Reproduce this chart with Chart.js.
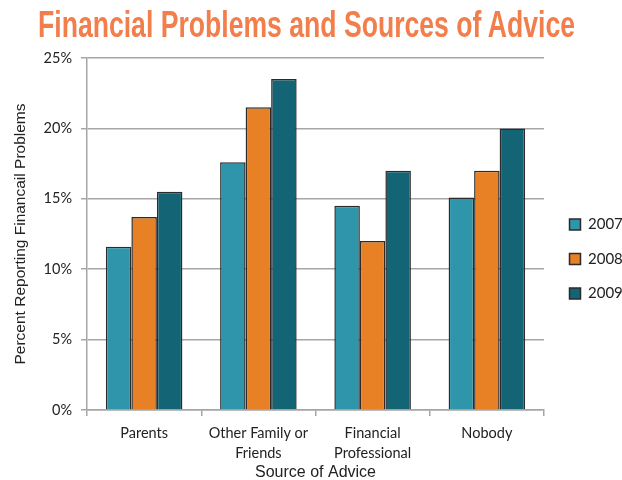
<!DOCTYPE html>
<html>
<head>
<meta charset="utf-8">
<script src="https://cdn.jsdelivr.net/npm/chart.js@4"></script>
<style>
  html, body { margin: 0; padding: 0; background: #fff; }
  #wrap { position: relative; width: 622px; height: 480px; }
  #titulo {
    position: absolute; left: 0; top: 7px; margin: 0;
    font-family: "Liberation Sans", Arial, sans-serif; font-weight: bold;
    font-size: 36px; line-height: 36px; color: #F27E4C;
    white-space: nowrap; transform-origin: 0 0;
  }
</style>
</head>
<body>
<div id="wrap">
  <h1 id="titulo">Financial Problems and Sources of Advice</h1>
  <canvas id="grafico" width="622" height="480"></canvas>
</div>
<script>
const categorias = ['Parents', ['Other Family or', 'Friends'], ['Financial', 'Professional'], 'Nobody'];
const anos = ['2007', '2008', '2009'];
const valores2007 = [11.6, 17.6, 14.5, 15.1];
const valores2008 = [13.7, 21.5, 12.0, 17.0];
const valores2009 = [15.5, 23.5, 17.0, 20.0];
const cores = ['#2E95AA', '#E88025', '#136576'];

const series = [valores2007, valores2008, valores2009];

// titulo condensado: encolhe na horizontal ate a largura do original
function ajustarTitulo() {
    let t = document.getElementById('titulo');
    let largura = t.getBoundingClientRect().width;
    let escala = 537 / largura;
    t.style.left = '38px';
    t.style.transform = `scaleX(${escala})`;
}

// empurra a legenda para a posicao do original
const moverLegenda = {
    id: 'moverLegenda',
    afterLayout(chart) {
        let legenda = chart.legend;
        let dx = 6, dy = -10;
        legenda.left += dx; legenda.right += dx;
        legenda.top += dy; legenda.bottom += dy;
    }
};

function montarGrafico() {
    let ctx = document.getElementById('grafico').getContext('2d');

    let datasets = series.map((valores, i) => ({
        label: anos[i],
        data: valores,
        backgroundColor: cores[i],
        borderColor: '#2b2b2b',
        borderWidth: 1.5,
        categoryPercentage: 0.67,
        barPercentage: 1.0
    }));

    new Chart(ctx, {
        type: 'bar',
        data: { labels: categorias, datasets: datasets },
        plugins: [moverLegenda],
        options: {
            responsive: false,
            animation: false,
            layout: { padding: { left: 0, right: 0, top: 58, bottom: 0 } },
            plugins: {
                title: { display: false },
                legend: {
                    position: 'right',
                    maxWidth: 78,
                    labels: {
                        boxWidth: 11,
                        boxHeight: 11,
                        padding: 19.5,
                        color: '#222',
                        font: { family: 'Lato, sans-serif', size: 15 }
                    }
                },
                tooltip: { enabled: false }
            },
            scales: {
                x: {
                    afterFit: scale => { scale.height = 70; },
                    grid: { display: true, drawOnChartArea: false, drawTicks: true, tickLength: 6, color: '#A6A6A6', lineWidth: 1.5 },
                    border: { color: '#A6A6A6', width: 1.5 },
                    ticks: { color: '#222', font: { family: 'Lato, sans-serif', size: 14.5, lineHeight: 1.35 }, padding: 8, maxRotation: 0 },
                    title: {
                        display: true,
                        text: 'Source of Advice',
                        color: '#222',
                        font: { family: '"Liberation Sans", Arial, sans-serif', size: 16 },
                        padding: { top: 0, bottom: -2 }
                    }
                },
                y: {
                    min: 0,
                    max: 25,
                    afterFit: scale => { scale.width = 87; },
                    ticks: { stepSize: 5, color: '#222', font: { family: 'Lato, sans-serif', size: 14.5 }, padding: 9, callback: v => v + '%' },
                    grid: { color: '#A6A6A6', lineWidth: 1.5, tickLength: 6 },
                    border: { color: '#A6A6A6', width: 1.5 },
                    title: {
                        display: true,
                        text: 'Percent Reporting Financail Problems',
                        color: '#222',
                        font: { family: '"Liberation Sans", Arial, sans-serif', size: 15.5 },
                        padding: { top: 11, bottom: 0 }
                    }
                }
            }
        }
    });
}

ajustarTitulo();
montarGrafico();
</script>
</body>
</html>
